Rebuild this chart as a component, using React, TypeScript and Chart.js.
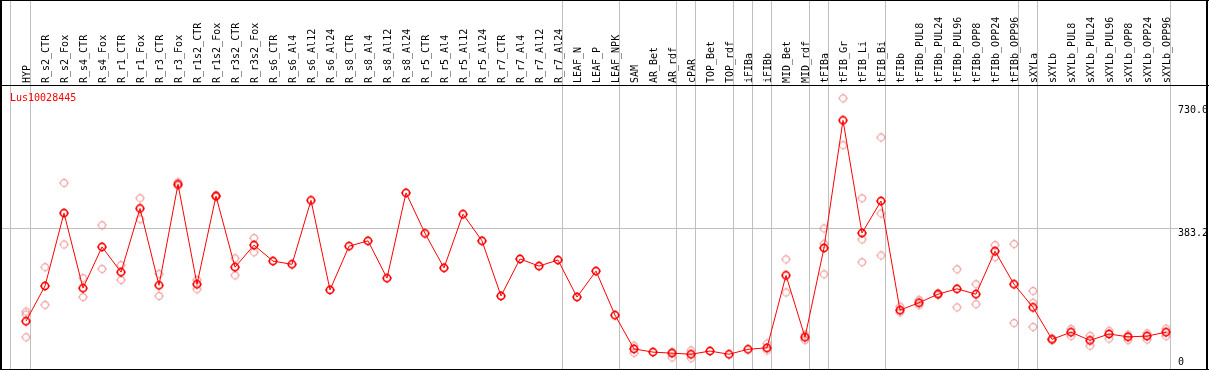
import React, { useEffect, useRef } from "react";
import { Chart, registerables } from "chart.js";

Chart.register(...registerables);

const geneId = "Lus10028445";

const categories = [
  "HYP", "R_s2_CTR", "R_s2_Fox", "R_s4_CTR", "R_s4_Fox", "R_r1_CTR", "R_r1_Fox", "R_r3_CTR", "R_r3_Fox",
  "R_r1s2_CTR", "R_r1s2_Fox", "R_r3s2_CTR", "R_r3s2_Fox", "R_s6_CTR", "R_s6_Al4", "R_s6_Al12", "R_s6_Al24",
  "R_s8_CTR", "R_s8_Al4", "R_s8_Al12", "R_s8_Al24", "R_r5_CTR", "R_r5_Al4", "R_r5_Al12", "R_r5_Al24",
  "R_r7_CTR", "R_r7_Al4", "R_r7_Al12", "R_r7_Al24", "LEAF_N", "LEAF_P", "LEAF_NPK", "SAM", "AR_Bet", "AR_rdf",
  "cPAR", "TOP_Bet", "TOP_rdf", "iFIBa", "iFIBb", "MID_Bet", "MID_rdf", "tFIBa", "tFIB_Gr", "tFIB_Li", "tFIB_Bi",
  "tFIBb", "tFIBb_PUL8", "tFIBb_PUL24", "tFIBb_PUL96", "tFIBb_OPP8", "tFIBb_OPP24", "tFIBb_OPP96", "sXYLa",
  "sXYLb", "sXYLb_PUL8", "sXYLb_PUL24", "sXYLb_PUL96", "sXYLb_OPP8", "sXYLb_OPP24", "sXYLb_OPP96",
];

const meanValues = [
  121, 220, 425, 214, 330, 259, 438, 222, 506,
  225, 473, 273, 335, 290, 281, 461, 209,
  332, 347, 242, 482, 368, 271, 422, 347,
  192, 296, 276, 293, 189, 262, 138, 43, 34, 31,
  28, 37, 28, 42, 46, 250, 76, 327, 686, 369, 459,
  152, 173, 197, 212, 197, 318, 225, 160,
  70, 90, 67, 85, 77, 79, 90,
];

const N = null;
const rep1 = [
  148, 273, 510, 242, 391, 279, 467, 254, 512,
  237, 476, 298, 355, N, N, N, N,
  N, N, N, N, N, N, N, N,
  N, N, N, N, N, N, N, 52, N, 35,
  39, N, N, N, 58, 295, 83, 382, 748, 467, 638,
  162, 181, 200, 267, 225, 335, 338, 206,
  72, 99, 80, 94, 83, 87, 100,
];
const rep2 = [
  140, 167, 337, 189, 268, 237, 408, 192, 502,
  211, 470, 250, 315, N, N, N, N,
  N, N, N, N, N, N, N, N,
  N, N, N, N, N, N, N, 32, N, 19,
  17, N, N, N, 39, 202, 68, 339, 616, 351, 424,
  146, 166, 195, 160, 169, 301, 116, 173,
  68, 79, 52, 72, 68, 69, 79,
];
const rep3 = [
  76, N, N, N, N, N, N, N, N,
  N, N, N, N, N, N, N, N,
  N, N, N, N, N, N, N, N,
  N, N, N, N, N, N, N, N, N, N,
  N, N, N, N, N, N, N, 253, N, 287, 306,
  N, N, N, N, N, N, N, 105,
  N, N, N, N, N, N, N,
];

// indices of the last category in each group (a separator follows each)
const groupEnds = [0, 28, 31, 34, 35, 37, 38, 39, 41, 42, 45, 52, 53, 60];

const yTickValues = [730, 383.2, 0];
const yTickLabels = ["730.0", "383.2", "0"];
const yGridValues = [383.2];

function makeMarker(color: string, lw: number, r: number, tick: number) {
  const c = document.createElement("canvas");
  c.width = 14;
  c.height = 14;
  const g = c.getContext("2d")!;
  g.strokeStyle = color;
  g.fillStyle = color;
  g.lineWidth = lw;
  g.beginPath();
  g.arc(7, 7, r, 0, Math.PI * 2);
  g.stroke();
  const o = Math.round(r + lw / 2);
  g.fillRect(6.5, 7 - o - tick, 1, tick);
  g.fillRect(6.5, 7 + o, 1, tick);
  g.fillRect(7 - o - tick, 6.5, tick, 1);
  g.fillRect(7 + o, 6.5, tick, 1);
  return c;
}

export default function App() {
  const ref = useRef<HTMLCanvasElement | null>(null);

  useEffect(() => {
    document.body.style.margin = "0";
    const canvas = ref.current!;
    const mainMarker = makeMarker("#ff0000", 1.6, 3.6, 1);
    const repMarker = makeMarker("rgba(235,120,120,0.7)", 1.1, 3.4, 1);

    const decor = {
      id: "decor",
      beforeDatasetsDraw(chart: any) {
        const ctx = chart.ctx;
        const xs = chart.scales.x;
        const ys = chart.scales.y;
        ctx.save();
        ctx.strokeStyle = "#c0c0c0";
        ctx.lineWidth = 1;
        const step = xs.getPixelForValue(1) - xs.getPixelForValue(0);
        const lines = [xs.getPixelForValue(0) - step + 3.5, ...groupEnds.map((i) => xs.getPixelForValue(i) + 4.5)];
        for (const lx of lines) {
          ctx.beginPath();
          ctx.moveTo(lx, 0);
          ctx.lineTo(lx, 370);
          ctx.stroke();
        }
        for (const v of yGridValues) {
          const py = Math.round(ys.getPixelForValue(v)) + 0.5;
          ctx.beginPath();
          ctx.moveTo(1, py);
          ctx.lineTo(1178, py);
          ctx.stroke();
        }
        ctx.restore();
      },
      afterDraw(chart: any) {
        const ctx = chart.ctx;
        const xs = chart.scales.x;
        const ys = chart.scales.y;
        ctx.save();
        ctx.fillStyle = "#000";
        ctx.font = '10px "DejaVu Sans Mono"';
        ctx.textAlign = "left";
        ctx.textBaseline = "alphabetic";
        categories.forEach((c, i) => {
          const px = xs.getPixelForValue(i);
          ctx.save();
          ctx.translate(px + 4, 83);
          ctx.rotate(-Math.PI / 2);
          ctx.fillText(c, 0, 0);
          ctx.restore();
        });
        ctx.fillStyle = "#ff0000";
        ctx.fillText(geneId, 10, 101);
        ctx.beginPath();
        ctx.rect(0, 0, 1206, 370);
        ctx.clip();
        ctx.fillStyle = "#000";
        ctx.font = '10px "DejaVu Sans Mono"';
        ctx.textBaseline = "alphabetic";
        yTickValues.forEach((v, i) => {
          const py = Math.min(ys.getPixelForValue(v) + 8.5, 365);
          ctx.fillText(yTickLabels[i], 1178, py);
        });
        ctx.restore();
        ctx.save();
        ctx.fillStyle = "#000";
        ctx.fillRect(0, 0, 1209, 1);
        ctx.fillRect(0, 85, 1209, 1);
        ctx.fillRect(0, 369, 1209, 1);
        ctx.fillRect(0, 0, 2, 370);
        ctx.fillRect(1206, 0, 2, 370);
        ctx.restore();
      },
    };

    const repDataset = (data: (number | null)[]) => ({
      data,
      showLine: false,
      borderColor: "rgba(235,120,120,0.7)",
      backgroundColor: "rgba(0,0,0,0)",
      pointStyle: repMarker,
      pointRadius: 5,
      clip: false,
    });

    const chart = new Chart(canvas, {
      type: "line",
      data: {
        labels: categories,
        datasets: [
          {
            data: meanValues,
            borderColor: "#ff0000",
            borderWidth: 1,
            tension: 0,
            pointStyle: mainMarker,
            pointRadius: 5,
            clip: false,
          } as any,
          repDataset(rep1) as any,
          repDataset(rep2) as any,
          repDataset(rep3) as any,
        ],
      },
      options: {
        responsive: false,
        animation: false,
        events: [],
        layout: { autoPadding: false, padding: { left: 26, right: 43, top: 0, bottom: 0 } },
        plugins: { legend: { display: false }, tooltip: { enabled: false } },
        scales: {
          x: { type: "category", display: false, offset: false },
          y: { type: "linear", display: false, min: -16.3, max: 1024.5 },
        },
      } as any,
      plugins: [decor],
    });
    return () => chart.destroy();
  }, []);

  return <canvas ref={ref} width={1209} height={370} style={{ display: "block" }} />;
}
